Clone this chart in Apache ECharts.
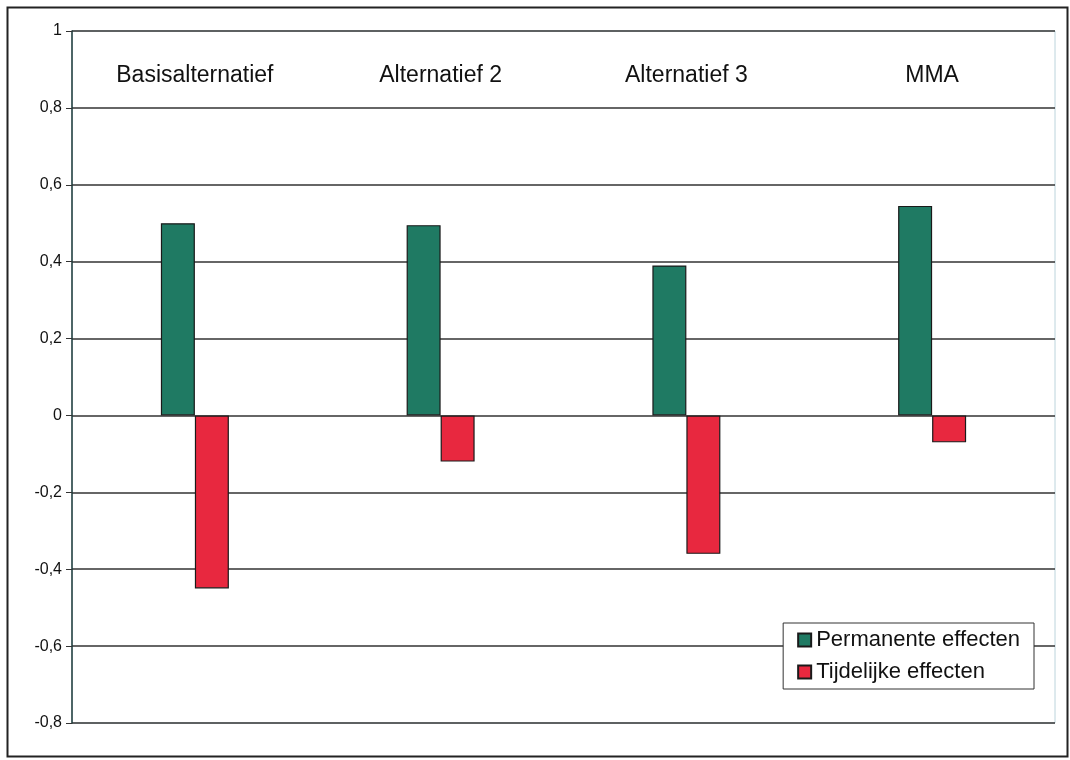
<!DOCTYPE html>
<html>
<head>
<meta charset="utf-8">
<script src="https://cdn.jsdelivr.net/npm/echarts@6/dist/echarts.min.js"></script>
<style>
html,body{margin:0;padding:0;background:#fff;}
#chart{width:1070px;height:760px;}
</style>
</head>
<body>
<div id="chart"></div>
<script>
const categories = ['Basisalternatief', 'Alternatief 2', 'Alternatief 3', 'MMA'];
const permanente = [0.50, 0.495, 0.39, 0.545];
const tijdelijke = [-0.45, -0.12, -0.36, -0.07];
const seriesNames = ['Permanente effecten', 'Tijdelijke effecten'];

const chart = echarts.init(document.getElementById('chart'));
const font = '"Liberation Sans", Arial, sans-serif';
chart.setOption({
  animation: false,
  backgroundColor: '#fff',
  textStyle: { fontFamily: font },
  graphic: [{
    type: 'rect', left: 5, top: 5, z: -1,
    shape: { width: 1060, height: 749 },
    style: { fill: 'none', stroke: '#222', lineWidth: 2 }
  }],
  grid: { left: 72, right: 15, top: 31, bottom: 37, show: true, borderColor: '#bcd4dc', borderWidth: 1, backgroundColor: 'transparent' },
  legend: {
    orient: 'vertical', right: 36, top: 623,
    itemWidth: 13, itemHeight: 13, itemGap: 10,
    padding: [6, 14, 6, 14],
    backgroundColor: '#fff', borderColor: '#333', borderWidth: 1,
    icon: 'rect',
    textStyle: { fontSize: 22, color: '#111', fontFamily: font },
    data: seriesNames
  },
  xAxis: {
    type: 'category', data: categories, position: 'top',
    axisLine: { show: false }, axisTick: { show: false },
    axisLabel: { inside: true, margin: 33, fontSize: 23, color: '#111', fontFamily: font }
  },
  yAxis: {
    type: 'value', min: -0.8, max: 1, interval: 0.2,
    axisLine: { show: true, lineStyle: { color: '#1c3a3a', width: 1.5 } },
    axisTick: { show: true, length: 6, lineStyle: { color: '#333' } },
    axisLabel: {
      fontSize: 16, color: '#111', margin: 10, fontFamily: font,
      formatter: v => { const r = Math.round(v * 10) / 10; return String(r).replace('.', ','); }
    },
    splitLine: { show: true, lineStyle: { color: '#333', width: 1.5 } }
  },
  series: [
    { name: seriesNames[0], type: 'bar', data: permanente, barWidth: 34, barGap: '0%',
      itemStyle: { color: '#1f7a63', borderColor: '#1a1a1a', borderWidth: 1.2 } },
    { name: seriesNames[1], type: 'bar', data: tijdelijke, barWidth: 34, barGap: '0%',
      itemStyle: { color: '#e8283f', borderColor: '#1a1a1a', borderWidth: 1.2 } }
  ]
});
</script>
</body>
</html>
